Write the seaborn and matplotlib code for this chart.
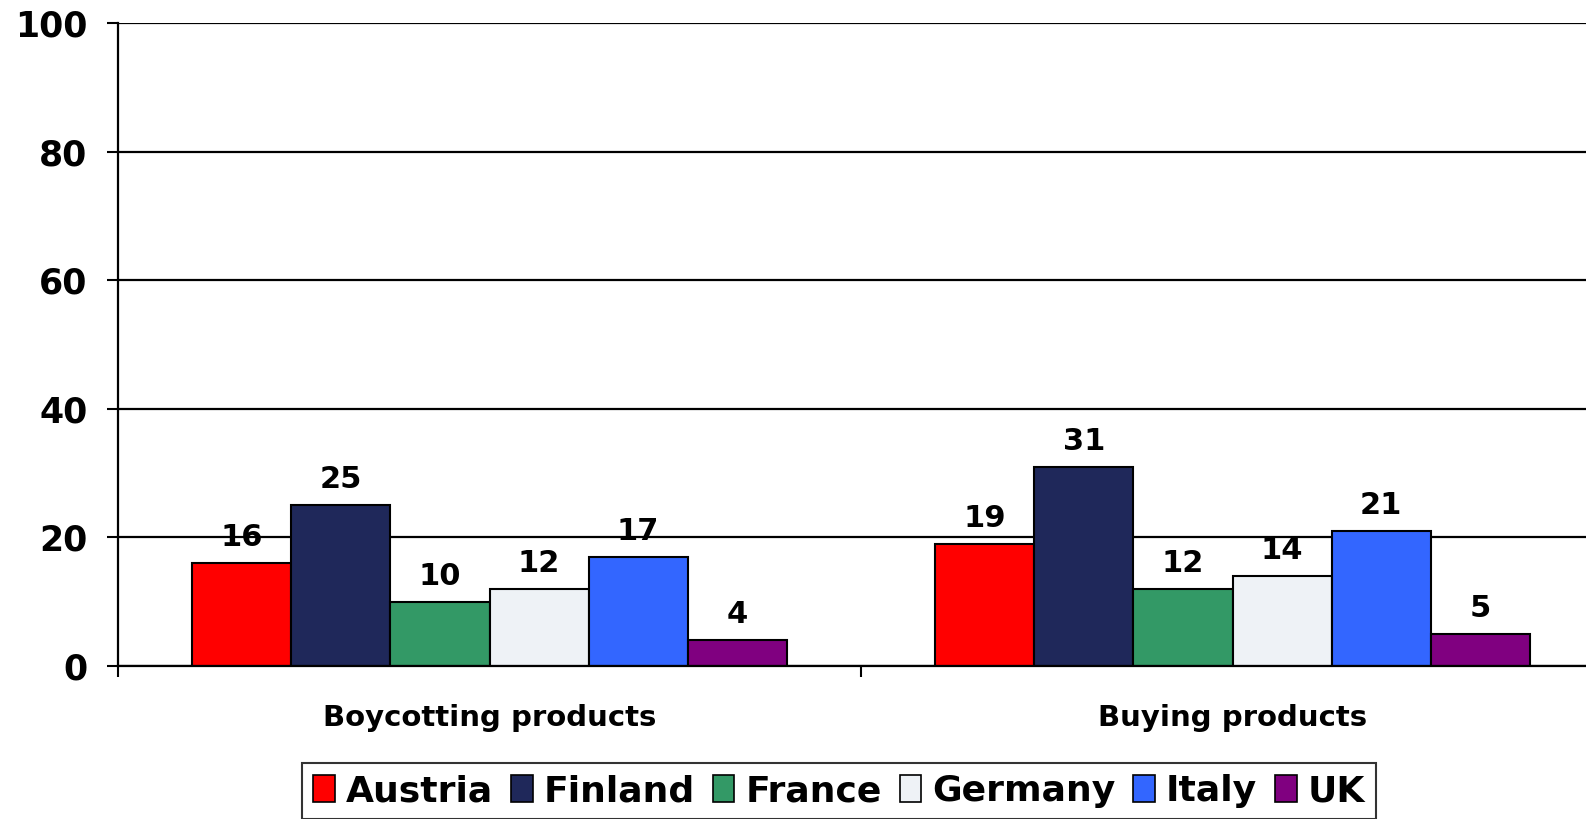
import matplotlib
matplotlib.use("Agg")
import matplotlib.pyplot as plt
import matplotlib.patches as mpatches
import pandas as pd
import seaborn as sns

activities = ["Boycotting products", "Buying products"]
countries = ["Austria", "Finland", "France", "Germany", "Italy", "UK"]
boycotting = [16, 25, 10, 12, 17, 4]
buying = [19, 31, 12, 14, 21, 5]
colors = ["#FF0000", "#1F285A", "#339966", "#EEF2F6", "#3366FF", "#800080"]
y_ticks = [0, 20, 40, 60, 80, 100]

df = pd.DataFrame({
    "activity": [activities[0]] * len(countries) + [activities[1]] * len(countries),
    "country": countries * 2,
    "value": boycotting + buying,
})

sns.set_theme(style="white")
plt.rcParams["font.family"] = ["DejaVu Sans"]
plt.rcParams["font.weight"] = "bold"
plt.rcParams["text.color"] = "black"
plt.rcParams["xtick.color"] = "black"
plt.rcParams["ytick.color"] = "black"

W, H = 1586, 819
fig = plt.figure(figsize=(W / 100, H / 100), dpi=100)
# plot area runs slightly past the right edge of the canvas
left_px, right_px, top_px, bottom_px = 118, 1604, 23, 666
ax = fig.add_axes([left_px / W, 1 - bottom_px / H,
                   (right_px - left_px) / W, (bottom_px - top_px) / H])

sns.barplot(data=df, x="activity", y="value", hue="country", order=activities,
            hue_order=countries, palette=colors, width=0.8, edgecolor="black",
            linewidth=1.5, saturation=1, legend=False, ax=ax)

# value labels above each bar
for container in ax.containers:
    for bar in container:
        h = bar.get_height()
        ax.annotate(f"{h:.0f}", (bar.get_x() + bar.get_width() / 2, h),
                    xytext=(0, 8), textcoords="offset points", ha="center",
                    va="bottom", fontsize=22, fontweight="bold", color="black")

ax.set_xlim(-0.5, 1.5)
ax.set_ylim(0, 100)
ax.set_yticks(y_ticks)
ax.set_yticklabels([str(t) for t in y_ticks], fontsize=25, fontweight="bold",
                   color="black")
ax.set_xlabel("")
ax.set_ylabel("")
ax.yaxis.grid(True, color="black", linewidth=1.6)
ax.set_axisbelow(True)

ax.set_xticks([0, 1])
ax.set_xticklabels(activities, fontsize=21, fontweight="bold", color="black")
ax.set_xticks([-0.5, 0.5, 1.5], minor=True)
ax.tick_params(axis="x", which="major", length=0, pad=27)
ax.tick_params(axis="x", which="minor", bottom=True, length=8, width=1.5,
               color="black", direction="out")
ax.tick_params(axis="y", left=True, length=8, width=1.5, color="black",
               direction="out", pad=14)

for side in ["top", "right"]:
    ax.spines[side].set_visible(False)
for side in ["left", "bottom"]:
    ax.spines[side].set_visible(True)
    ax.spines[side].set_color("black")
    ax.spines[side].set_linewidth(1.6)

handles = [mpatches.Patch(facecolor=c, edgecolor="black", linewidth=1.2, label=n)
           for c, n in zip(colors, countries)]
leg = fig.legend(handles=handles, loc="center", bbox_to_anchor=(839 / W, 1 - 791 / H),
                 ncol=6, frameon=True, fancybox=False,
                 prop={"weight": "bold", "size": 26}, handlelength=0.6,
                 handleheight=0.75, handletextpad=0.3, columnspacing=0.5,
                 borderpad=0.3, borderaxespad=0)
leg.get_frame().set_edgecolor("black")
leg.get_frame().set_linewidth(1.5)
for t in leg.get_texts():
    t.set_color("black")

fig.savefig("out.png", dpi=100, facecolor="white")
